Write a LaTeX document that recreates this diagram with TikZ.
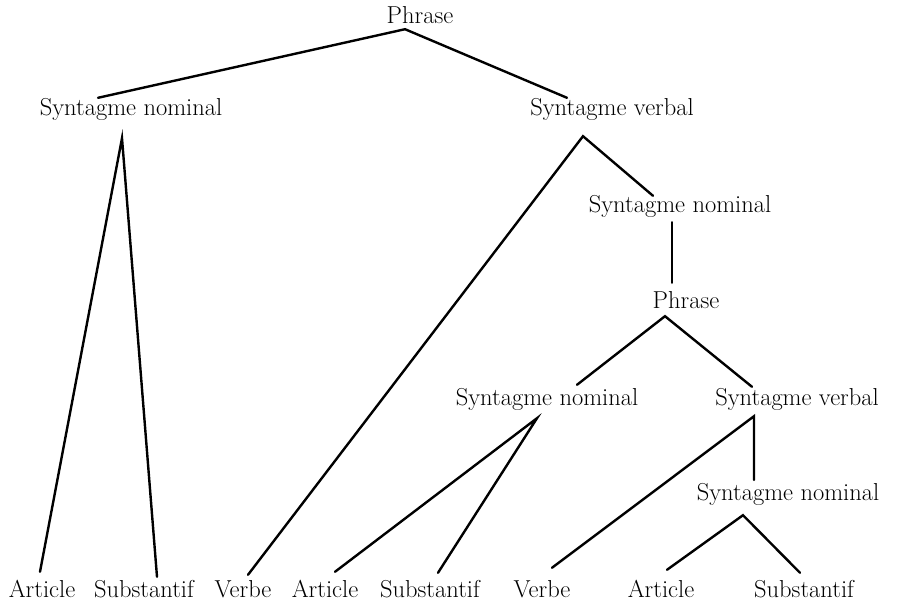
\documentclass[tikz,border=0pt]{standalone}
\usepackage{fontspec}
\begin{document}
\begin{tikzpicture}[x=1pt,y=-1pt,
  lbl/.style={anchor=base,inner sep=0pt,text height=17pt,text depth=5pt,font=\fontsize{24.5}{28}\selectfont},
  edge/.style={line width=2.4pt,line cap=round}]
\useasboundingbox (0,0) rectangle (898,603);
% nodes
\node[lbl] (p1) at (420,23) {Phrase};
\node[lbl] (sn1) at (131,115) {Syntagme nominal};
\node[lbl] (sv1) at (612,115) {Syntagme verbal};
\node[lbl] (sn2) at (680,212) {Syntagme nominal};
\node[lbl] (p2) at (686,308) {Phrase};
\node[lbl] (sn3) at (547,405) {Syntagme nominal};
\node[lbl] (sv3) at (797,405) {Syntagme verbal};
\node[lbl] (sn4) at (788,500) {Syntagme nominal};
\node[lbl] (art1) at (42,597) {Article};
\node[lbl] (sub1) at (144,597) {Substantif};
\node[lbl] (vb1) at (243,597) {Verbe};
\node[lbl] (art2) at (325,597) {Article};
\node[lbl] (sub2) at (430,597) {Substantif};
\node[lbl] (vb2) at (542,597) {Verbe};
\node[lbl] (art3) at (661,597) {Article};
\node[lbl] (sub3) at (804,597) {Substantif};
% connectors
\draw[edge] ([shift={(-33pt,0pt)}]sn1.north) -- ([shift={(-15pt,-1pt)}]p1.south) -- ([shift={(-45pt,0pt)}]sv1.north);
\draw[edge] ([shift={(-2pt,8pt)}]art1.north) -- ([shift={(-9pt,-18pt)}]sn1.south) -- ([shift={(13pt,3pt)}]sub1.north);
\draw[edge] ([shift={(5pt,5pt)}]vb1.north) -- ([shift={(-29pt,-16pt)}]sv1.south) -- ([shift={(-27pt,-1pt)}]sn2.north);
\draw[edge] ([shift={(-8pt,-5pt)}]sn2.south) -- ([shift={(-14pt,8pt)}]p2.north);
\draw[edge] ([shift={(30pt,3pt)}]sn3.north) -- ([shift={(-21pt,-3pt)}]p2.south) -- ([shift={(-45pt,1pt)}]sv3.north);
\draw[edge] ([shift={(10pt,8pt)}]art2.north) -- ([shift={(-10pt,-8pt)}]sn3.south) -- ([shift={(8pt,7pt)}]sub2.north);
\draw[edge] ([shift={(10pt,12pt)}]vb2.north) -- ([shift={(-43pt,-6pt)}]sv3.south) -- ([shift={(-34pt,3pt)}]sn4.north);
\draw[edge] ([shift={(6pt,10pt)}]art3.north) -- ([shift={(-45pt,-10pt)}]sn4.south) -- ([shift={(-4pt,7pt)}]sub3.north);
\end{tikzpicture}
\end{document}
